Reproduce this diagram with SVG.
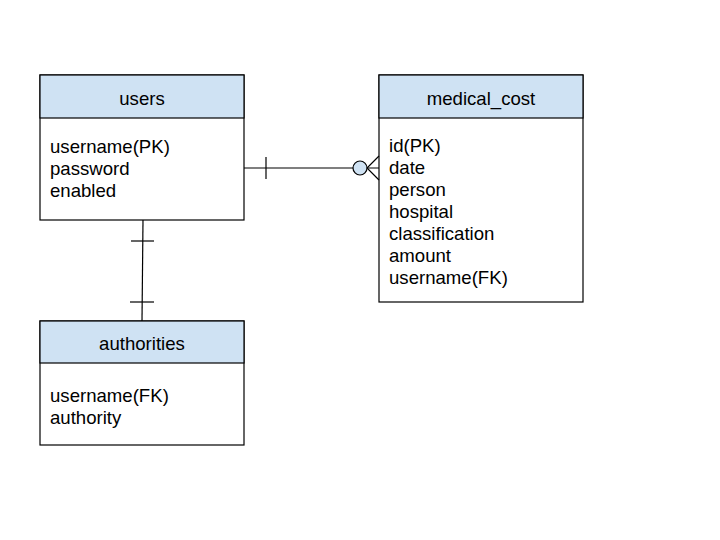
<svg xmlns="http://www.w3.org/2000/svg" width="720" height="540" viewBox="0 0 720 540">
<style>
.box{fill:#fff;stroke:#000;stroke-width:1.2}
.hdr{fill:#cfe2f3;stroke:#000;stroke-width:1.2}
.t{font-family:"Liberation Sans",Arial,sans-serif;font-size:18.6px;fill:#000}
.c{text-anchor:middle}
.ln{stroke:#000;stroke-width:1.2;fill:none}
</style>
<rect width="720" height="540" fill="#fff"/>
<g id="users">
<rect class="box" x="40" y="75" width="204" height="145"/>
<rect class="hdr" x="40" y="75" width="204" height="43"/>
<text class="t c" x="142" y="104.5">users</text>
<text class="t" x="50" y="153">username(PK)</text>
<text class="t" x="50" y="175">password</text>
<text class="t" x="50" y="197">enabled</text>
</g>
<g id="medical_cost">
<rect class="box" x="379" y="75" width="204" height="227"/>
<rect class="hdr" x="379" y="75" width="204" height="43"/>
<text class="t c" x="481" y="104.5">medical_cost</text>
<text class="t" x="389" y="152">id(PK)</text>
<text class="t" x="389" y="174">date</text>
<text class="t" x="389" y="196">person</text>
<text class="t" x="389" y="218">hospital</text>
<text class="t" x="389" y="240">classification</text>
<text class="t" x="389" y="262">amount</text>
<text class="t" x="389" y="284">username(FK)</text>
</g>
<g id="authorities">
<rect class="box" x="40" y="321" width="204" height="124"/>
<rect class="hdr" x="40" y="321" width="204" height="42"/>
<text class="t c" x="142" y="349.5">authorities</text>
<text class="t" x="50" y="402">username(FK)</text>
<text class="t" x="50" y="424">authority</text>
</g>
<g id="connectors">
<line class="ln" x1="244" y1="168" x2="379" y2="168"/>
<line class="ln" x1="266" y1="157" x2="266" y2="179"/>
<path class="ln" d="M379 156 L367 168 L379 180"/>
<circle cx="360" cy="168" r="7" fill="#cfe2f3" stroke="#000" stroke-width="1.2"/>
<line class="ln" x1="143" y1="220" x2="142" y2="321"/>
<line class="ln" x1="131" y1="241" x2="154" y2="241"/>
<line class="ln" x1="130" y1="302" x2="154" y2="302"/>
</g>
</svg>
